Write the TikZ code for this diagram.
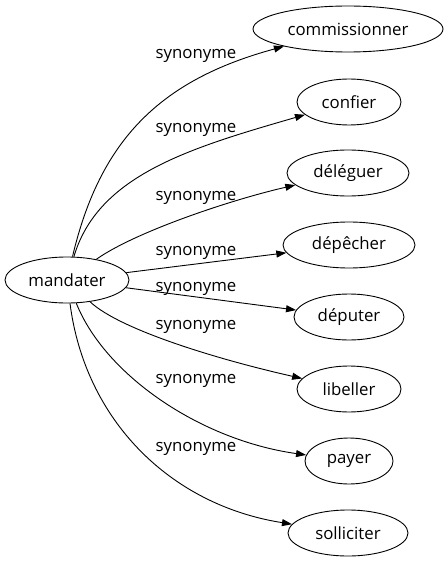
\documentclass[tikz,border=0pt]{standalone}
\usepackage{fontspec}
\setmainfont{Open Sans}
\usetikzlibrary{shapes.geometric,arrows.meta}
\begin{document}
\begin{tikzpicture}[x=1bp,y=-1bp,
  word/.style={draw, ellipse, inner sep=0pt, line width=0.9bp, minimum height=46bp,
    font=\fontsize{16.8bp}{20bp}\selectfont},
  rel/.style={font=\fontsize{16.8bp}{20bp}\selectfont, inner sep=0pt},
  link/.style={line width=0.9bp, -{Triangle[length=10bp,width=7bp]}}]
\useasboundingbox (0,0) rectangle (447,563);
\node[word, minimum width=124bp] (m) at (67,280) {mandater};
\node[word, minimum width=190bp] (n1) at (348,29) {commissionner};
\node[word, minimum width=104bp] (n2) at (349,102) {confier};
\node[word, minimum width=122bp] (n3) at (348,173) {déléguer};
\node[word, minimum width=132bp] (n4) at (349,245) {dépêcher};
\node[word, minimum width=110bp] (n5) at (349,317) {députer};
\node[word, minimum width=104bp] (n6) at (349,389) {libeller};
\node[word, minimum width=88bp] (n7) at (349,461) {payer};
\node[word, minimum width=120bp] (n8) at (348,533) {solliciter};

\draw[link] (m) .. controls (100,140) and (160,80) .. (n1);
\draw[link] (m) .. controls (98,175) and (190,148) .. (n2);
\draw[link] (m) .. controls (135,232) and (230,200) .. (n3);
\draw[link] (m) -- (n4);
\draw[link] (m) -- (n5);
\draw[link] (m) .. controls (120,330) and (220,360) .. (n6);
\draw[link] (m) .. controls (105,375) and (200,440) .. (n7);
\draw[link] (m) .. controls (85,420) and (170,505) .. (n8);

\node[rel] (l1) at (196,56) {synonyme};
\node[rel] (l2) at (196,130) {synonyme};
\node[rel] (l3) at (196,198) {synonyme};
\node[rel] (l4) at (196,253) {synonyme};
\node[rel] (l5) at (196,289) {synonyme};
\node[rel] (l6) at (196,327) {synonyme};
\node[rel] (l7) at (196,381) {synonyme};
\node[rel] (l8) at (196,449) {synonyme};
\end{tikzpicture}
\end{document}
